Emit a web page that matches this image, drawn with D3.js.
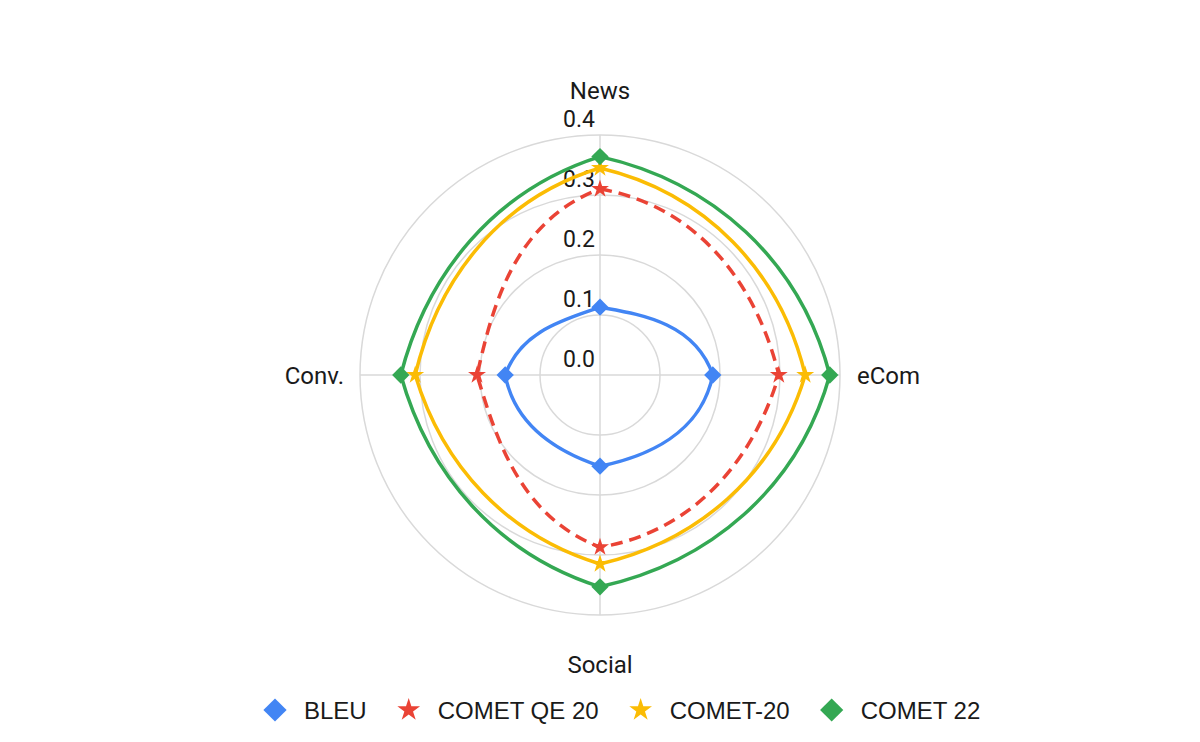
<!DOCTYPE html>
<html>
<head>
<meta charset="utf-8">
<script src="https://cdn.jsdelivr.net/npm/d3@7"></script>
<style>
	body { margin: 0; background: #fff; }
	text { font-family: Roboto, "Liberation Sans", Arial, sans-serif; fill: #1a1a1a; }
	.legend text { font-family: "Liberation Sans", Arial, sans-serif; }
</style>
</head>
<body>
<div class="container"></div>
<script>
var	WIDTH = 1200,
	HEIGHT = 742,
	CX = 600,
	CY = 375,
	RADIUS = 240;

var categories = ['News', 'eCom', 'Social', 'Conv.'];
var ticks = [0.0, 0.1, 0.2, 0.3, 0.4];

var seriesNames = ['BLEU', 'COMET QE 20', 'COMET-20', 'COMET 22'];
var bleu = [0.113, 0.188, 0.152, 0.158];
var cometQE20 = [0.310, 0.298, 0.287, 0.205];
var comet20 = [0.345, 0.342, 0.315, 0.308];
var comet22 = [0.364, 0.383, 0.353, 0.332];

var colors = ['#4285F4', '#EA4335', '#FBBC04', '#34A853'];
var symbols = ['diamond', 'star', 'star', 'diamond'];
var dashes = [null, '12,7', null, null];

function translate(x, y) {
	return 'translate(' + x + ',' + y + ')';
}

var svg = d3.select('.container').append('svg')
	.attr('width', WIDTH)
	.attr('height', HEIGHT);

var g = svg.append('g')
	.attr('transform', translate(CX, CY));

var rScale = d3.scaleLinear()
	.domain([0, 0.4])
	.range([0, RADIUS]);

var aScale = d3.scaleLinear()
	.domain([0, categories.length])
	.range([0, 2 * Math.PI]);

function polar(a, r) {
	return [r * Math.sin(a), -r * Math.cos(a)];
}

// grid circles
g.selectAll('.ring')
	.data(ticks.slice(1)).enter()
	.append('circle')
	.attr('r', function(d) { return rScale(d); })
	.attr('fill', 'none')
	.attr('stroke', '#d9d9d9')
	.attr('stroke-width', 1.5);

// spokes
g.selectAll('.spoke')
	.data(categories).enter()
	.append('line')
	.attr('x1', 0).attr('y1', 0)
	.attr('x2', function(d, i) { return polar(aScale(i), RADIUS)[0]; })
	.attr('y2', function(d, i) { return polar(aScale(i), RADIUS)[1]; })
	.attr('stroke', '#d9d9d9')
	.attr('stroke-width', 1.5);

// tick labels
g.selectAll('.tick')
	.data(ticks).enter()
	.append('text')
	.attr('x', -5)
	.attr('y', function(d) { return -rScale(d) - 8; })
	.attr('text-anchor', 'end')
	.style('font-size', '23px')
	.text(function(d) { return d3.format('.1f')(d); });

// category labels
var labelPos = [
	{x: 0, y: -RADIUS - 36, anchor: 'middle'},
	{x: RADIUS + 17, y: 9, anchor: 'start'},
	{x: 0, y: RADIUS + 58, anchor: 'middle'},
	{x: -RADIUS - 16, y: 9, anchor: 'end'}
];
g.selectAll('.cat')
	.data(categories).enter()
	.append('text')
	.attr('x', function(d, i) { return labelPos[i].x; })
	.attr('y', function(d, i) { return labelPos[i].y; })
	.attr('text-anchor', function(d, i) { return labelPos[i].anchor; })
	.style('font-size', '24px')
	.text(function(d) { return d; });

// smooth line: control points computed in (angle, radius) space, then placed in the plane
function smoothPath(values) {
	var n = values.length,
		step = aScale(1) - aScale(0),
		path = d3.path();
	function r(i) { return rScale(values[(i + n) % n]); }
	function slope(i) { return (r(i + 1) - r(i - 1)) / 6; }
	var start = polar(aScale(0), r(0));
	path.moveTo(start[0], start[1]);
	for (var i = 0; i < n; i++) {
		var a0 = aScale(i),
			a1 = aScale(i + 1),
			c1 = polar(a0 + step / 3, r(i) + slope(i)),
			c2 = polar(a1 - step / 3, r(i + 1) - slope(i + 1)),
			p = polar(a1, r(i + 1));
		path.bezierCurveTo(c1[0], c1[1], c2[0], c2[1], p[0], p[1]);
	}
	path.closePath();
	return path.toString();
}

function symbolPath(type, big) {
	if (type === 'star') return d3.symbol().type(d3.symbolStar).size(big ? 160 : 100)();
	return d3.symbol().type(d3.symbolSquare).size(big ? 270 : 150)();
}

var allSeries = [bleu, cometQE20, comet20, comet22];

allSeries.forEach(function(values, k) {
	g.append('path')
		.attr('d', smoothPath(values))
		.attr('fill', 'none')
		.attr('stroke', colors[k])
		.attr('stroke-width', 3.5)
		.attr('stroke-dasharray', dashes[k]);
});

allSeries.forEach(function(values, k) {
	g.selectAll('.pt' + k)
		.data(values).enter()
		.append('path')
		.attr('d', symbolPath(symbols[k], false))
		.attr('fill', colors[k])
		.attr('transform', function(d, i) {
			var p = polar(aScale(i), rScale(d));
			return translate(p[0], p[1]) + (symbols[k] === 'diamond' ? ' rotate(45)' : '');
		});
});

// legend
var legend = svg.append('g').attr('class', 'legend')
	.attr('transform', translate(0, 710));
var x = 275;
seriesNames.forEach(function(name, k) {
	legend.append('path')
		.attr('d', symbolPath(symbols[k], true))
		.attr('fill', colors[k])
		.attr('transform', translate(x, 0) + (symbols[k] === 'diamond' ? ' rotate(45)' : ''));
	var t = legend.append('text')
		.attr('x', x + 29)
		.attr('y', 9)
		.style('font-size', '24px')
		.text(name);
	x += 29 + t.node().getComputedTextLength() + 42;
});
</script>
</body>
</html>
